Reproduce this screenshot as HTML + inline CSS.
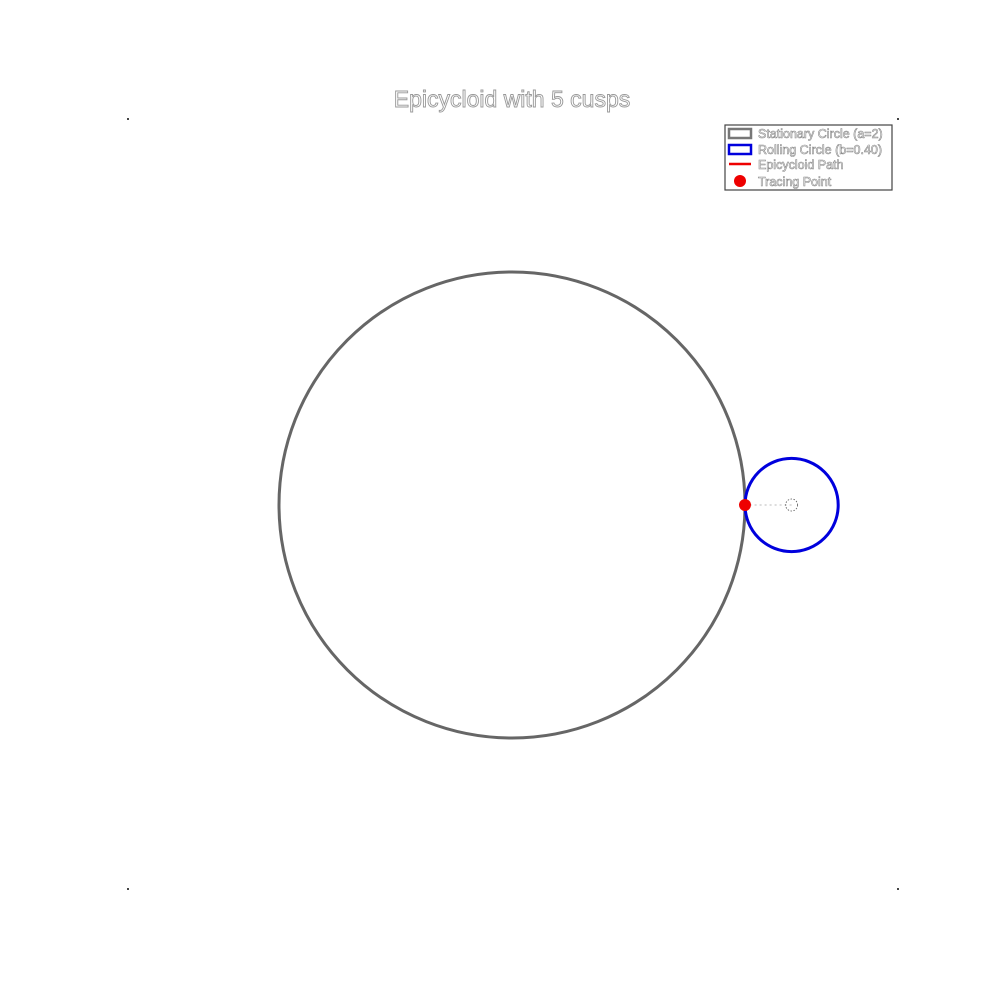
<!DOCTYPE html>
<html><head><meta charset="utf-8"><style>
html,body{margin:0;padding:0;background:#fff;}
svg{display:block;font-family:"Liberation Sans",sans-serif;}
</style></head><body>
<svg id="chart" width="1000" height="1000" viewBox="0 0 1000 1000">
<text x="512" y="107" text-anchor="middle" font-size="23" fill="#fff" stroke="#999" stroke-width="0.9">Epicycloid with 5 cusps</text>
<g fill="#444">
<rect x="127" y="118" width="2" height="2"/><rect x="897" y="118" width="2" height="2"/>
<rect x="127" y="888" width="2" height="2"/><rect x="897" y="888" width="2" height="2"/>
</g>
<g id="plot"></g>
<g>
<rect x="725" y="125" width="167" height="65" fill="#fff" stroke="#444" stroke-width="1.2"/>
<rect x="729" y="129" width="22" height="9" fill="none" stroke="#777" stroke-width="2.5"/>
<text x="758" y="138" font-size="12.5" fill="#fff" stroke="#888" stroke-width="0.6">Stationary Circle (a=2)</text>
<rect x="729" y="145" width="22" height="9" fill="none" stroke="#0000dd" stroke-width="2.5"/>
<text x="758" y="154" font-size="12.5" fill="#fff" stroke="#888" stroke-width="0.6">Rolling Circle (b=0.40)</text>
<line x1="729" y1="164" x2="751" y2="164" stroke="#ee0000" stroke-width="2.5"/>
<text x="758" y="169" font-size="12.5" fill="#fff" stroke="#888" stroke-width="0.6">Epicycloid Path</text>
<circle cx="740" cy="181" r="6" fill="#ee0000"/>
<text x="758" y="186" font-size="12.5" fill="#fff" stroke="#888" stroke-width="0.6">Tracing Point</text>
</g>
</svg>
<script>
const radiusA = [2];
const radiusB = [0.4];
const rollAngle = [0];
const cx0 = 512, cy0 = 505, scale = 116.5;
const sx = v => cx0 + v * scale;
const sy = v => cy0 - v * scale;
const NS = "http://www.w3.org/2000/svg";
const plot = document.getElementById('plot');
function mk(tag, attrs){const e=document.createElementNS(NS,tag);for(const k in attrs)e.setAttribute(k,attrs[k]);plot.appendChild(e);return e;}
const a = radiusA[0], b = radiusB[0], t = rollAngle[0];
const big = mk('circle',{cx:sx(0),cy:sy(0),r:a*scale,fill:'none',stroke:'#666',"stroke-width":3});


const ccx = (a+b)*Math.cos(t), ccy = (a+b)*Math.sin(t);
const small = mk('circle',{cx:sx(ccx),cy:sy(ccy),r:b*scale,fill:'none',stroke:'#0000dd',"stroke-width":3});


const px = (a+b)*Math.cos(t) - b*Math.cos((a+b)/b*t);
const py = (a+b)*Math.sin(t) - b*Math.sin((a+b)/b*t);
const arm = mk('line',{x1:sx(ccx),y1:sy(ccy),x2:sx(px),y2:sy(py),stroke:'#bbb',"stroke-width":1,"stroke-dasharray":"2,3"});


const cen = mk('circle',{cx:sx(ccx),cy:sy(ccy),r:6,fill:'none',stroke:'#555',"stroke-width":0.8,"stroke-dasharray":"1.5,1.5"});


const pt = mk('circle',{cx:sx(px),cy:sy(py),r:6,fill:'#ee0000'});


</script>
</body></html>
